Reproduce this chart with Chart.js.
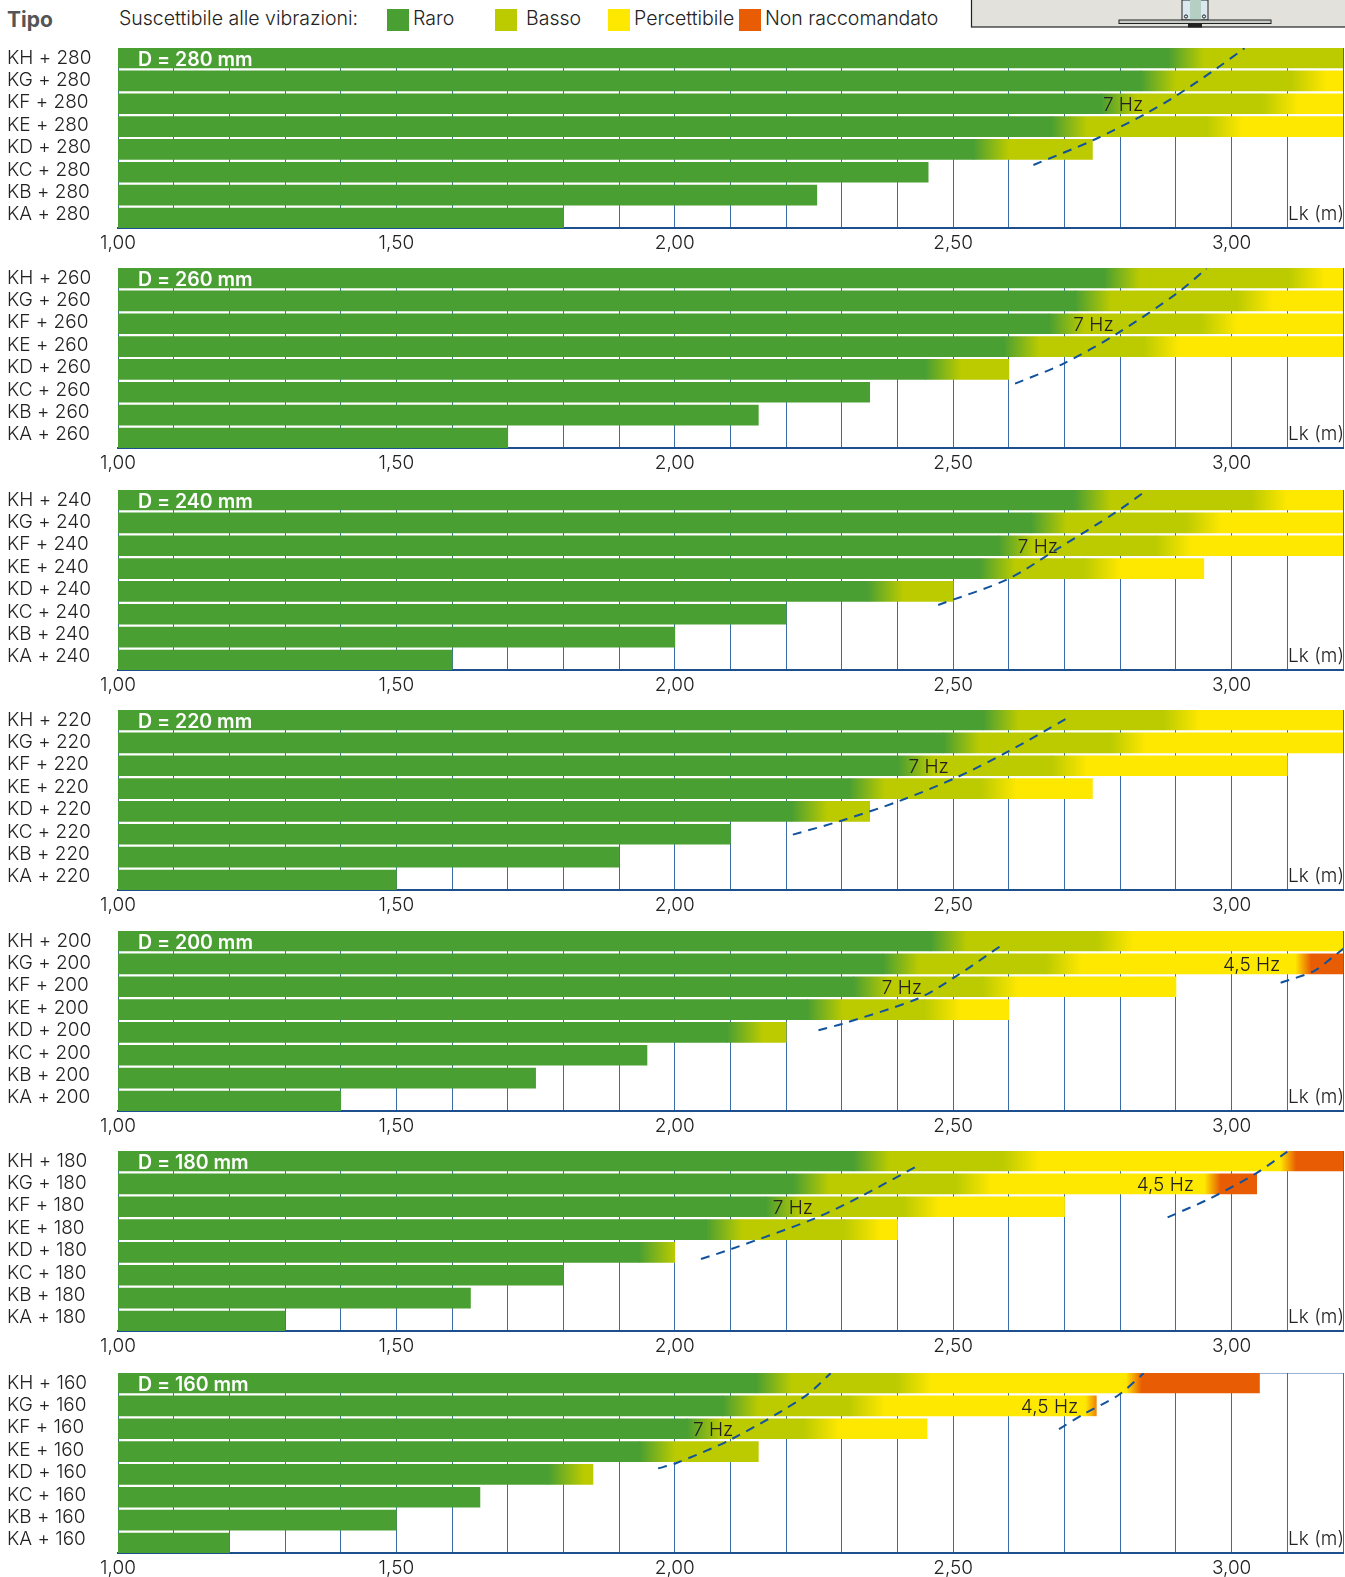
<!DOCTYPE html>
<html>
<head>
<meta charset="utf-8">
<script src="https://cdn.jsdelivr.net/npm/chart.js@4/dist/chart.umd.js"></script>
<style>
  html, body { margin: 0; padding: 0; background: #fff; }
  body { position: relative; width: 1345px; height: 1577px; overflow: hidden; font-family: Inter, sans-serif; font-weight: 300; color: #222; }
  canvas { position: absolute; left: 0; }
  .testo { position: absolute; top: 7px; font-size: 19.5px; line-height: 22px; white-space: nowrap; }
  .quadrato { position: absolute; top: 9px; width: 22px; height: 22px; }
</style>
</head>
<body>
<div class="testo" style="left:7px;top:9px;font-weight:700;font-size:21px;color:#555">Tipo</div>
<div class="testo" style="left:119px">Suscettibile alle vibrazioni:</div>
<div class="quadrato" style="left:387px;background:#4a9f32"></div><div class="testo" style="left:413px">Raro</div>
<div class="quadrato" style="left:495px;background:#bccb00"></div><div class="testo" style="left:526px">Basso</div>
<div class="quadrato" style="left:608px;background:#ffe800"></div><div class="testo" style="left:634px">Percettibile</div>
<div class="quadrato" style="left:739px;background:#e85c04"></div><div class="testo" style="left:765px">Non raccomandato</div>

<svg style="position:absolute;left:970px;top:0" width="375" height="30">
  <rect x="1.5" y="-3" width="376" height="30" fill="#e2e1dc" stroke="#222" stroke-width="1.2"/>
  <rect x="212" y="0" width="26" height="20" fill="#dce8f0" stroke="#222" stroke-width="1"/>
  <rect x="220" y="0" width="11" height="24" fill="#b5cfc4"/>
  <rect x="149" y="20" width="152" height="3.5" fill="#c8cdc8" stroke="#222" stroke-width="1"/>
  <rect x="218" y="24" width="14" height="3.5" fill="#222"/>
  <circle cx="216" cy="16.5" r="1.6" fill="none" stroke="#222"/>
  <circle cx="234" cy="16.5" r="1.6" fill="none" stroke="#222"/>
</svg>

<canvas id="c280" width="1345" height="218" style="top:38px"></canvas>
<canvas id="c260" width="1345" height="218" style="top:258px"></canvas>
<canvas id="c240" width="1345" height="218" style="top:480px"></canvas>
<canvas id="c220" width="1345" height="218" style="top:700px"></canvas>
<canvas id="c200" width="1345" height="218" style="top:921px"></canvas>
<canvas id="c180" width="1345" height="218" style="top:1141px"></canvas>
<canvas id="c160" width="1345" height="218" style="top:1363px"></canvas>

<script>
const tipi = ['KH', 'KG', 'KF', 'KE', 'KD', 'KC', 'KB', 'KA'];
const altezze = [280, 260, 240, 220, 200, 180, 160];
const colori = ['#4a9f32', '#bccb00', '#ffe800', '#e85c04'];

// dove finisce ogni colore, in metri (null = il colore non c'e')
const raro280 = [2.886, 2.836, 2.766, 2.676, 2.536, null, null, null];
const basso280 = [null, 3.106, 3.056, 2.956, null, null, null, null];
const percettibile280 = [null, null, null, null, null, null, null, null];
const lunghezza280 = [3.2, 3.2, 3.2, 3.2, 2.75, 2.455, 2.255, 1.80];

const raro260 = [2.771, 2.719, 2.672, 2.591, 2.45, null, null, null];
const basso260 = [3.103, 3.01, 2.946, 2.843, null, null, null, null];
const percettibile260 = [null, null, null, null, null, null, null, null];
const lunghezza260 = [3.2, 3.2, 3.2, 3.2, 2.60, 2.35, 2.15, 1.70];

const raro240 = [2.718, 2.64, 2.581, 2.547, 2.346, null, null, null];
const basso240 = [3.036, 2.918, 2.864, 2.736, null, null, null, null];
const percettibile240 = [null, null, null, null, null, null, null, null];
const lunghezza240 = [3.2, 3.2, 3.2, 2.95, 2.50, 2.20, 2.00, 1.60];

const raro220 = [2.554, 2.483, 2.401, 2.313, 2.21, null, null, null];
const basso220 = [2.879, 2.783, 2.677, 2.551, null, null, null, null];
const percettibile220 = [null, null, null, null, null, null, null, null];
const lunghezza220 = [3.2, 3.2, 3.10, 2.75, 2.35, 2.10, 1.90, 1.50];

const raro200 = [2.46, 2.374, 2.321, 2.238, 2.094, null, null, null];
const basso200 = [2.76, 2.667, 2.553, 2.449, null, null, null, null];
const percettibile200 = [null, 3.114, null, null, null, null, null, null];
const lunghezza200 = [3.2, 3.2, 2.90, 2.60, 2.20, 1.95, 1.75, 1.40];

const raro180 = [2.321, 2.213, 2.164, 2.056, 1.936, null, null, null];
const basso180 = [2.59, 2.505, 2.412, 2.305, null, null, null, null];
const percettibile180 = [3.087, 2.951, null, null, null, null, null, null];
const lunghezza180 = [3.2, 3.045, 2.70, 2.40, 2.00, 1.80, 1.633, 1.30];

const raro160 = [2.146, 2.086, 2.022, 1.937, 1.773, null, null, null];
const basso160 = [2.398, 2.313, 2.232, null, null, null, null, null];
const percettibile160 = [2.81, 2.737, null, null, null, null, null, null];
const lunghezza160 = [3.05, 2.757, 2.453, 2.15, 1.853, 1.65, 1.50, 1.20];

// curve tratteggiate: [Lk, riga]
const curva7Hz280 = [[2.644, 5.2], [2.752, 4.09], [2.847, 2.9], [2.898, 2.16], [2.973, 0.91], [3.023, 0.01]];
const curva7Hz260 = [[2.611, 5.14], [2.698, 4.25], [2.794, 2.92], [2.901, 1.14], [2.955, 0.03]];
const curva7Hz240 = [[2.473, 5.11], [2.598, 3.96], [2.687, 2.62], [2.792, 0.99], [2.848, 0]];
const curva7Hz220 = [[2.212, 5.54], [2.299, 4.92], [2.405, 4.03], [2.504, 3.02], [2.593, 1.92], [2.705, 0.36]];
const curva7Hz200 = [[2.258, 4.41], [2.30, 4.13], [2.437, 3.0], [2.504, 2.03], [2.589, 0.6]];
const curva7Hz180 = [[2.047, 4.8], [2.10, 4.37], [2.252, 2.99], [2.333, 2.03], [2.441, 0.59]];
const curva7Hz160 = [[1.97, 4.24], [2.002, 4.01], [2.105, 2.9], [2.233, 1.05], [2.28, 0.01]];
const curva45Hz200 = [[3.088, 2.30], [3.147, 1.79], [3.18, 1.19], [3.204, 0.72]];
const curva45Hz180 = [[2.885, 2.95], [2.962, 2.1], [3.044, 0.99], [3.10, 0.03]];
const curva45Hz160 = [[2.69, 2.49], [2.737, 1.79], [2.797, 0.98], [2.842, 0.01]];

// ascissa delle scritte 7 Hz (riga KF) e 4,5 Hz (riga KG)
const etichette7Hz = [2.805, 2.752, 2.652, 2.456, 2.408, 2.212, 2.069];
const etichette45Hz = [null, null, null, null, 3.036, 2.881, 2.673];

const FONT = 'Inter, sans-serif';
const SFUMATURA = 36;
const SFUMATURA_ARANCIO = 16;

function segmenti(raro, basso, percettibile, lunghezza) {
  const serie = [[], [], [], []];
  lunghezza.forEach((fine, i) => {
    const tappe = [1, raro[i], basso[i], percettibile[i]];
    tappe.forEach((inizio, c) => {
      if (inizio === null) return;
      const prossime = tappe.slice(c + 1).filter(t => t !== null);
      serie[c].push({ x: [inizio, prossime.length ? prossime[0] : fine], y: i });
    });
  });
  return serie;
}

function coloreBarra(c) {
  return ctx => {
    const dato = ctx.raw;
    if (c === 0 || !dato) return colori[c];
    const x0 = ctx.chart.scales.x.getPixelForValue(dato.x[0]);
    if (!Number.isFinite(x0)) return colori[c];
    const g = ctx.chart.ctx.createLinearGradient(x0, 0, x0 + (c === 3 ? SFUMATURA_ARANCIO : SFUMATURA), 0);
    g.addColorStop(0, colori[c - 1]);
    g.addColorStop(1, colori[c]);
    return g;
  };
}

const scritte = {
  id: 'scritte',
  beforeDatasetsDraw(chart) {
    const { ctx, chartArea } = chart;
    ctx.save();
    ctx.strokeStyle = 'rgba(30, 90, 160, 0.45)';
    ctx.lineWidth = 1;
    ctx.beginPath();
    ctx.moveTo(chartArea.left, chartArea.top + 0.5);
    ctx.lineTo(chartArea.right, chartArea.top + 0.5);
    ctx.stroke();
    ctx.restore();
  },
  afterDatasetsDraw(chart, args, opts) {
    const { ctx, chartArea, scales } = chart;
    ctx.save();
    ctx.textBaseline = 'middle';
    ctx.fillStyle = '#fff';
    ctx.font = '600 19.5px ' + FONT;
    ctx.textAlign = 'left';
    ctx.fillText('D = ' + opts.altezza + ' mm', chartArea.left + 20, chartArea.top + 12);
    ctx.fillStyle = '#222';
    ctx.font = '300 19px ' + FONT;
    ctx.textAlign = 'right';
    ctx.fillText('Lk (m)', chartArea.right + 1, scales.yTipi.getPixelForValue(7));
    ctx.textAlign = 'center';
    ctx.fillText('7 Hz', scales.x.getPixelForValue(opts.x7), scales.y.getPixelForValue(2) + 2);
    if (opts.x45 !== null) {
      ctx.fillText('4,5 Hz', scales.x.getPixelForValue(opts.x45), scales.y.getPixelForValue(1) + 1);
    }
    ctx.restore();
  }
};

function creaPannello(n, raro, basso, percettibile, lunghezza, curve) {
  const altezza = altezze[n];
  const barre = segmenti(raro, basso, percettibile, lunghezza).map((dati, c) => ({
    type: 'bar',
    indexAxis: 'y',
    data: dati,
    xAxisID: 'x',
    yAxisID: 'y',
    grouped: false,
    barThickness: 20,
    borderWidth: 0,
    borderSkipped: false,
    order: 2,
    backgroundColor: coloreBarra(c)
  }));
  const linee = curve.map(punti => ({
    type: 'scatter',
    showLine: true,
    data: punti.map(p => ({ x: p[0], y: p[1] })),
    xAxisID: 'x',
    yAxisID: 'yCurva',
    borderColor: '#12529c',
    borderWidth: 2,
    borderDash: [9, 7],
    pointRadius: 0,
    tension: 0.3,
    order: 1
  }));

  new Chart(document.getElementById('c' + altezza), {
    data: { datasets: barre.concat(linee) },
    plugins: [scritte],
    options: {
      responsive: false,
      animation: false,
      devicePixelRatio: 1,
      layout: { padding: { left: 7, right: 2, top: 10, bottom: 0 } },
      plugins: {
        legend: { display: false },
        tooltip: { enabled: false },
        scritte: { altezza: altezza, x7: etichette7Hz[n], x45: etichette45Hz[n] }
      },
      scales: {
        x: {
          type: 'linear',
          min: 1,
          max: 3.2,
          afterFit: s => { s.height = 28; s.paddingLeft = 0; s.paddingRight = 0; },
          border: { color: '#1d4f8f', width: 2 },
          grid: { color: '#3a6ca6', lineWidth: 1, drawTicks: false },
          ticks: {
            stepSize: 0.1,
            autoSkip: false,
            maxRotation: 0,
            padding: 4,
            color: '#222',
            font: { family: FONT, size: 19, weight: 300 },
            callback: v => Math.abs(v * 2 - Math.round(v * 2)) < 1e-6 ? v.toFixed(2).replace('.', ',') : ''
          }
        },
        y: {
          type: 'linear',
          display: false,
          offset: false,
          reverse: true,
          min: -0.4375,
          max: 7.4375,
          grid: { display: false, offset: false }
        },
        yCurva: {
          type: 'linear',
          display: false,
          reverse: true,
          min: 0,
          max: 8
        },
        yTipi: {
          type: 'linear',
          position: 'left',
          reverse: true,
          min: -0.44,
          max: 7.6,
          afterFit: s => { s.width = 111; s.paddingTop = 0; s.paddingBottom = 0; },
          afterBuildTicks: s => { s.ticks = tipi.map((t, i) => ({ value: i })); },
          border: { display: false },
          grid: { display: false },
          ticks: {
            crossAlign: 'far',
            autoSkip: false,
            color: '#222',
            font: { family: FONT, size: 19, weight: 300 },
            callback: v => tipi[v] + ' + ' + altezza
          }
        }
      }
    }
  });
}

creaPannello(0, raro280, basso280, percettibile280, lunghezza280, [curva7Hz280]);
creaPannello(1, raro260, basso260, percettibile260, lunghezza260, [curva7Hz260]);
creaPannello(2, raro240, basso240, percettibile240, lunghezza240, [curva7Hz240]);
creaPannello(3, raro220, basso220, percettibile220, lunghezza220, [curva7Hz220]);
creaPannello(4, raro200, basso200, percettibile200, lunghezza200, [curva7Hz200, curva45Hz200]);
creaPannello(5, raro180, basso180, percettibile180, lunghezza180, [curva7Hz180, curva45Hz180]);
creaPannello(6, raro160, basso160, percettibile160, lunghezza160, [curva7Hz160, curva45Hz160]);
</script>
</body>
</html>
